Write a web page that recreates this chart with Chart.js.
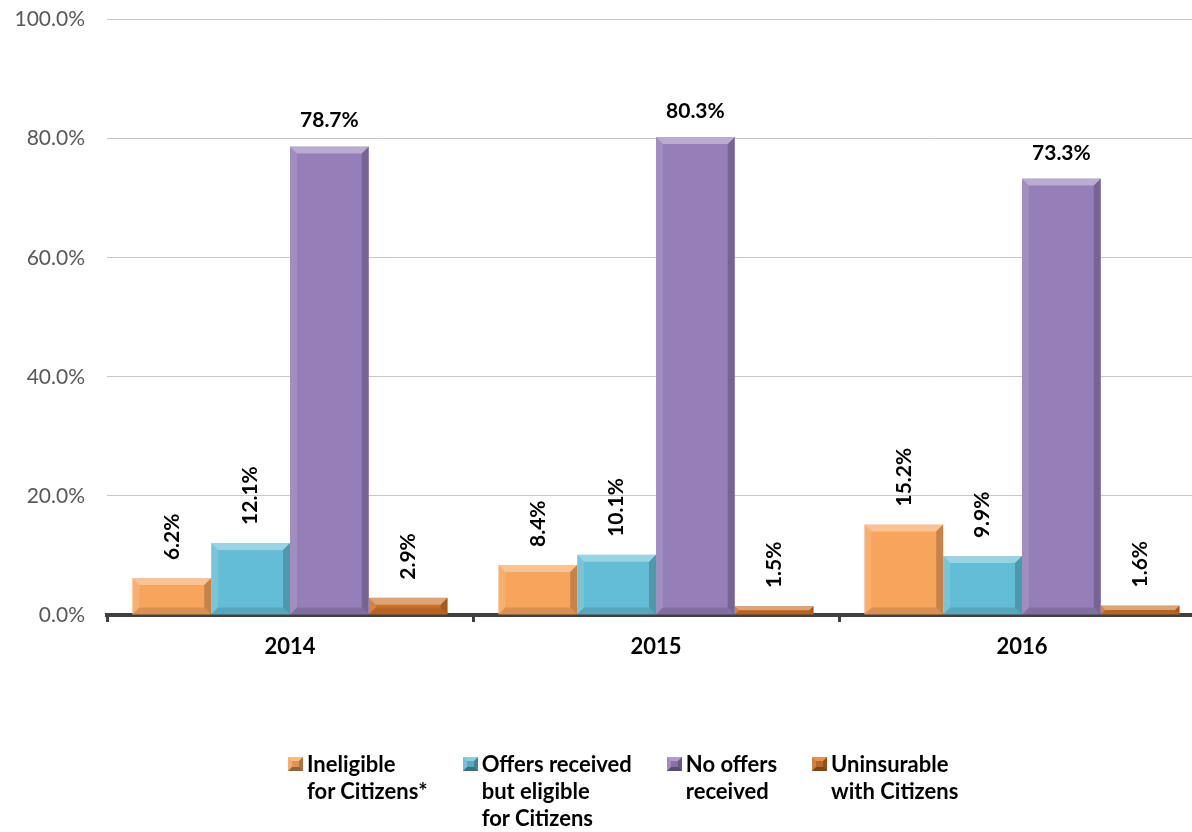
<!DOCTYPE html>
<html>
<head>
<meta charset="utf-8">
<script src="https://cdn.jsdelivr.net/npm/chart.js@4.4.0/dist/chart.umd.min.js"></script>
<style>
  html, body { margin: 0; padding: 0; background: #fff; }
  #wrap { position: relative; width: 1192px; height: 832px; overflow: hidden; }
  #offerChart { position: absolute; left: 0; top: -15px; }
  #legend {
    position: absolute; left: 288px; top: 750px;
    display: flex; gap: 35px;
    font: bold 22px Lato, sans-serif; line-height: 27px; color: #000;
  }
  .item { display: flex; align-items: flex-start; }
  .swatch {
    width: 7px; height: 6px; margin: 7px 4px 0 0;
    border: 4px solid; box-sizing: content-box;
  }
</style>
</head>
<body>
<div id="wrap">
  <canvas id="offerChart" width="1230" height="847"></canvas>
  <div id="legend"></div>
</div>
<script>
const years = ["2014", "2015", "2016"];
const seriesNames = [
  ["Ineligible", "for Citizens*"],
  ["Offers received", "but eligible", "for Citizens"],
  ["No offers", "received"],
  ["Uninsurable", "with Citizens"],
];
const ineligible = [6.2, 8.4, 15.2];
const eligibleWithOffers = [12.1, 10.1, 9.9];
const noOffers = [78.7, 80.3, 73.3];
const uninsurable = [2.9, 1.5, 1.6];
const yTicks = [0, 20, 40, 60, 80, 100];

const colors = ["#F7A45C", "#63BDD5", "#967EB8", "#CF7229"];
const seriesData = [ineligible, eligibleWithOffers, noOffers, uninsurable];

const ctx = document.getElementById("offerChart");

// paint bevelled edges on each bar, like office 3D bars
const face = (c, pts, fill) => {
  c.beginPath();
  c.moveTo(pts[0][0], pts[0][1]);
  pts.slice(1).forEach((p) => c.lineTo(p[0], p[1]));
  c.closePath();
  c.fillStyle = fill;
  c.fill();
};

const bevelPlugin = {
  id: "bevel",
  afterDatasetsDraw(chart) {
    const c = chart.ctx;
    chart.data.datasets.forEach((ds, i) => {
      chart.getDatasetMeta(i).data.forEach((bar) => {
        const { x, y, base, width } = bar.getProps(["x", "y", "base", "width"], true);
        const l = x - width / 2, r = x + width / 2;
        const t = Math.min(y, base), b = Math.max(y, base);
        const s = Math.min(7, (b - t) / 2, width / 2);
        c.save();
        face(c, [[l, t], [r, t], [r - s, t + s], [l + s, t + s]], "rgba(255,255,255,0.35)");
        face(c, [[l, t], [l + s, t + s], [l + s, b - s], [l, b]], "rgba(255,255,255,0.12)");
        face(c, [[r, t], [r, b], [r - s, b - s], [r - s, t + s]], "rgba(0,0,0,0.2)");
        face(c, [[l, b], [l + s, b - s], [r - s, b - s], [r, b]], "rgba(0,0,0,0.12)");
        c.restore();
      });
    });
  },
};

// value labels: upright over the tall series, rotated over the rest
const valueLabels = {
  id: "valueLabels",
  afterDatasetsDraw(chart) {
    const c = chart.ctx;
    c.save();
    c.font = "bold 21px Lato, sans-serif";
    c.fillStyle = "#000";
    chart.data.datasets.forEach((ds, i) => {
      chart.getDatasetMeta(i).data.forEach((bar, j) => {
        const text = ds.data[j].toFixed(1) + "%";
        if (i === 2) {
          c.textAlign = "center";
          c.textBaseline = "alphabetic";
          c.fillText(text, bar.x, bar.y - 19);
        } else {
          c.save();
          c.translate(bar.x, bar.y - 18);
          c.rotate(-Math.PI / 2);
          c.textAlign = "left";
          c.textBaseline = "middle";
          c.fillText(text, 0, 0);
          c.restore();
        }
      });
    });
    c.restore();
  },
};

const offerChart = new Chart(ctx, {
  type: "bar",
  data: {
    labels: years,
    datasets: seriesData.map((d, i) => ({
      label: seriesNames[i].join(" "),
      data: d,
      backgroundColor: colors[i],
      borderWidth: 0,
      categoryPercentage: 0.861,
      barPercentage: 1,
    })),
  },
  options: {
    responsive: false,
    animation: false,
    layout: { padding: { top: 6, right: 25, left: 0, bottom: 0 } },
    plugins: { legend: { display: false }, tooltip: { enabled: false } },
    scales: {
      x: {
        grid: {
          drawOnChartArea: false,
          tickLength: 7,
          color: "#404040",
          lineWidth: 3,
        },
        border: { color: "#404040", width: 4 },
        ticks: {
          color: "#000",
          font: { family: "Lato", size: 22, weight: "bold" },
          padding: 12,
        },
        afterFit: (s) => { s.height = 847 - 630; },
      },
      y: {
        min: 0,
        max: 100,
        afterBuildTicks: (s) => { s.ticks = yTicks.map((v) => ({ value: v })); },
        grid: { color: "#c8c8c8", lineWidth: 1, drawTicks: false },
        border: { display: false },
        ticks: {
          color: "#595959",
          font: { family: "Lato", size: 21 },
          padding: 22,
          callback: (v) => v.toFixed(1) + "%",
        },
        afterFit: (s) => { s.width = 107; },
      },
    },
  },
  plugins: [bevelPlugin, valueLabels],
});

// legend with wrapped series names
const legend = document.getElementById("legend");
const shade = (hex, amt) => {
  const n = parseInt(hex.slice(1), 16);
  const ch = [n >> 16, (n >> 8) & 255, n & 255].map((v) =>
    Math.round(amt > 0 ? v + (255 - v) * amt : v * (1 + amt))
  );
  return `rgb(${ch.join(",")})`;
};
seriesNames.forEach((lines, i) => {
  const item = document.createElement("div");
  item.className = "item";
  const sw = document.createElement("span");
  sw.className = "swatch";
  sw.style.background = shade(colors[i], -0.1);
  sw.style.borderColor = `${shade(colors[i], 0.25)} ${shade(colors[i], -0.3)} ${shade(colors[i], -0.4)} ${shade(colors[i], 0.1)}`;
  const txt = document.createElement("div");
  txt.innerHTML = lines.join("<br>");
  item.appendChild(sw);
  item.appendChild(txt);
  legend.appendChild(item);
});
</script>
</body>
</html>
